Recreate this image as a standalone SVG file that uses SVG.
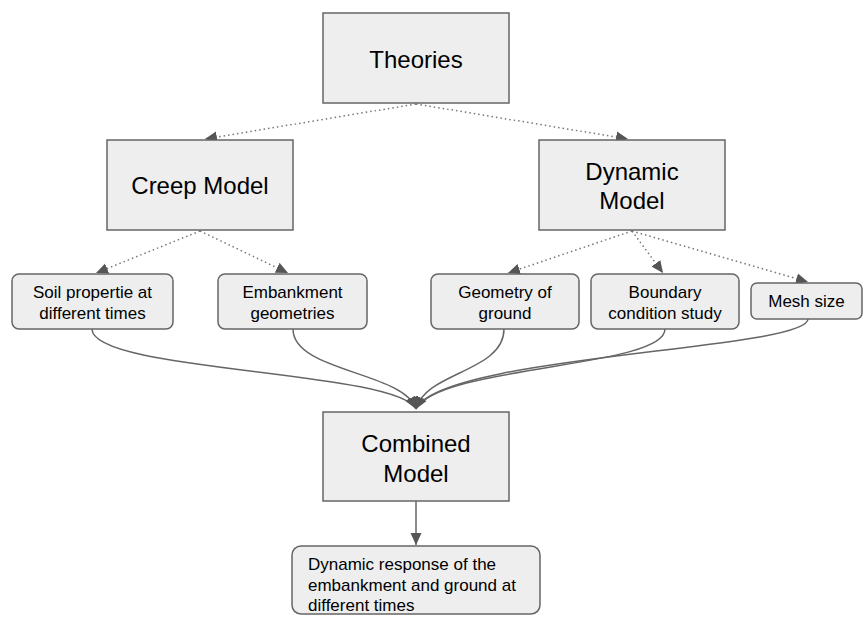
<svg xmlns="http://www.w3.org/2000/svg" width="864" height="617" viewBox="0 0 864 617">
<style>
.box{fill:#eeeeee;stroke:#666666;stroke-width:1.5}
.big{font-family:"Liberation Sans",Arial,sans-serif;font-size:24px;fill:#000;text-anchor:middle}
.sm{font-family:"Liberation Sans",Arial,sans-serif;font-size:17px;fill:#000;text-anchor:middle}
.dot{fill:none;stroke:#777777;stroke-width:1.5;stroke-dasharray:1.5 3;marker-end:url(#ah)}
.cur{fill:none;stroke:#666666;stroke-width:1.5;marker-end:url(#ah)}
</style>
<defs>
<marker id="ah" markerUnits="userSpaceOnUse" markerWidth="14" markerHeight="14" viewBox="0 0 14 14" refX="12" refY="7" orient="auto">
<path d="M0,1.5 L12,7 L0,12.5 Z" fill="#555555"/>
</marker>
</defs>
<rect width="864" height="617" fill="#ffffff"/>
<g id="connectors">
<path class="dot" d="M416,104 L205,139"/>
<path class="dot" d="M416,104 L628,139"/>
<path class="dot" d="M200,231 L96,273"/>
<path class="dot" d="M200,231 L288,273"/>
<path class="dot" d="M632,231 L508,273"/>
<path class="dot" d="M632,231 L663,273"/>
<path class="dot" d="M632,231 L808,282"/>
<path class="cur" d="M92,329 C92,372 395,370 416,409"/>
<path class="cur" d="M293,329 C293,372 405,372 416,409"/>
<path class="cur" d="M504,329 C504,372 425,372 416,409"/>
<path class="cur" d="M665,329 C665,368 440,365 416,409"/>
<path class="cur" d="M808,319 C808,350 440,355 416,409"/>
<path class="cur" d="M416,501 L416,545"/>
</g>
<g id="theories"><rect class="box" x="323" y="13" width="186" height="90"/><text class="big" x="416" y="68">Theories</text></g>
<g id="creep"><rect class="box" x="107" y="140" width="186" height="90"/><text class="big" x="200" y="194">Creep Model</text></g>
<g id="dynamic"><rect class="box" x="539" y="140" width="186" height="90"/><text class="big" x="632" y="180">Dynamic</text><text class="big" x="632" y="209">Model</text></g>
<g id="soil"><rect class="box" x="12" y="274" width="161" height="55" rx="7"/><text class="sm" x="92.5" y="298">Soil propertie at</text><text class="sm" x="92.5" y="319">different times</text></g>
<g id="embankment"><rect class="box" x="218" y="274" width="149" height="55" rx="7"/><text class="sm" x="292.5" y="298">Embankment</text><text class="sm" x="292.5" y="319">geometries</text></g>
<g id="geometry"><rect class="box" x="431" y="274" width="148" height="55" rx="7"/><text class="sm" x="505" y="298">Geometry of</text><text class="sm" x="505" y="319">ground</text></g>
<g id="boundary"><rect class="box" x="591" y="274" width="148" height="55" rx="7"/><text class="sm" x="665" y="298">Boundary</text><text class="sm" x="665" y="319">condition study</text></g>
<g id="mesh"><rect class="box" x="751" y="283" width="111" height="36" rx="6"/><text class="sm" x="806.5" y="307">Mesh size</text></g>
<g id="combined"><rect class="box" x="323" y="412" width="186" height="89"/><text class="big" x="416" y="452">Combined</text><text class="big" x="416" y="482">Model</text></g>
<g id="response"><rect class="box" x="292" y="546" width="248" height="68" rx="9"/><text class="sm" x="308" y="570" style="text-anchor:start">Dynamic response of the</text><text class="sm" x="308" y="591" style="text-anchor:start">embankment and ground at</text><text class="sm" x="308" y="611" style="text-anchor:start">different times</text></g>
</svg>
